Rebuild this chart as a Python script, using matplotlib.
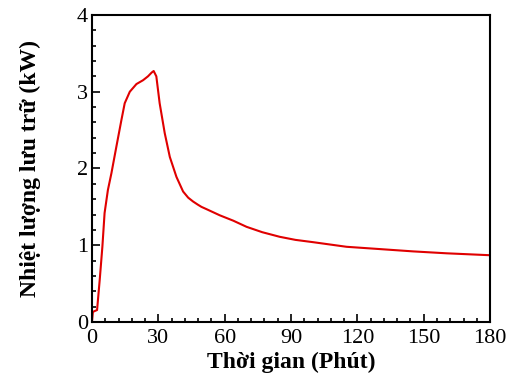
import matplotlib.pyplot as plt
from matplotlib.ticker import MultipleLocator

plt.rcParams['font.family'] = ['Liberation Serif', 'DejaVu Serif']

# doc tu hinh: thoi gian (phut) va nhiet luong luu tru (kW)
thoi_gian = [0, 0.4, 1, 2.3, 3.5, 4.7, 5.7, 7.2, 8.8, 11.0, 13.3, 14.8, 17.1,
             20.1, 23.1, 25.3, 27.0, 27.9, 29.1, 30.6, 32.9, 35.2, 38.2, 41.2,
             43.5, 45.7, 47.8, 49.5, 51.8, 57.8, 63.9, 69.9, 77, 84.9, 92, 100,
             115.1, 130.2, 145.2, 160.4, 180]
nhiet_luong = [0, 0.13, 0.14, 0.156, 0.55, 0.98, 1.42, 1.72, 1.94, 2.28, 2.63,
               2.85, 3.0, 3.10, 3.15, 3.20, 3.25, 3.27, 3.20, 2.85, 2.46, 2.15,
               1.89, 1.70, 1.62, 1.57, 1.53, 1.50, 1.47, 1.39, 1.32, 1.24, 1.17,
               1.11, 1.07, 1.04, 0.98, 0.95, 0.92, 0.895, 0.87]

fig = plt.figure(figsize=(5.11, 3.74), dpi=100)
ax = fig.add_axes([0.180, 0.139, 0.779, 0.821])
ax.plot(thoi_gian, nhiet_luong, color='#e00000', lw=1.5)

ax.set_xlim(0, 180)
ax.set_ylim(0, 4)
ax.xaxis.set_major_locator(MultipleLocator(30))
ax.xaxis.set_minor_locator(MultipleLocator(6))
ax.yaxis.set_major_locator(MultipleLocator(1))
ax.yaxis.set_minor_locator(MultipleLocator(0.2))
ax.tick_params(which='both', direction='in', top=False, right=False, labelsize=16, width=1.2)
ax.tick_params(axis='x', pad=5)
ax.tick_params(axis='y', pad=3)
ax.tick_params(which='major', length=6)
ax.tick_params(which='minor', length=3)
for s in ax.spines.values():
    s.set_linewidth(1.5)

ax.set_xlabel('Thời gian (Phút)', fontsize=17, fontweight='bold', labelpad=3)
ax.set_ylabel('Nhiệt lượng lưu trữ (kW)', fontsize=17, fontweight='bold', labelpad=26)

plt.savefig('out.png', dpi=100)
